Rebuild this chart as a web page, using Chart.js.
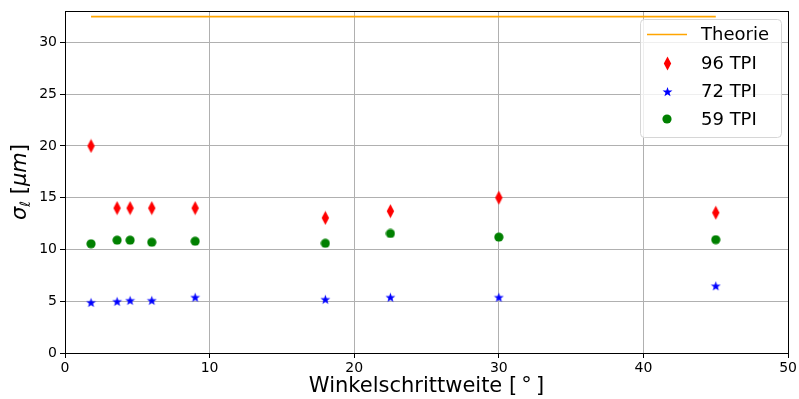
<!DOCTYPE html>
<html>
<head>
<meta charset="utf-8">
<script src="https://cdn.jsdelivr.net/npm/chart.js@4/dist/chart.umd.min.js"></script>
<style>
  html, body { margin: 0; padding: 0; background: #fff; }
  #wrap { width: 799px; height: 399px; }
</style>
</head>
<body>
<div id="wrap"><canvas id="c" width="799" height="399"></canvas></div>
<script>
// Angular step sizes in degrees
const steps = [1.8, 3.6, 4.5, 6, 9, 18, 22.5, 30, 45];
// Measured roughness sigma_l in micrometres per thread pitch
const tpi96 = [20.0, 14.0, 14.0, 14.0, 14.0, 13.05, 13.7, 15.0, 13.55];
const tpi72 = [4.9, 5.0, 5.1, 5.1, 5.4, 5.2, 5.4, 5.4, 6.5];
const tpi59 = [10.55, 10.9, 10.9, 10.7, 10.8, 10.6, 11.55, 11.2, 10.95];
// Theoretical value
const theoryX = [1.8, 45];
const theoryY = [32.5, 32.5];

const xTicks = [0, 10, 20, 30, 40, 50];
const yTicks = [0, 5, 10, 15, 20, 25, 30];

const FONT = "DejaVu Sans";

function markerCanvas(w, h, draw) {
  const c = document.createElement('canvas');
  c.width = w; c.height = h;
  const g = c.getContext('2d');
  draw(g, w, h);
  return c;
}
const diamond = markerCanvas(9, 15, (g, w, h) => {
  g.fillStyle = '#ff0000';
  g.beginPath();
  g.moveTo(w / 2, 0.5); g.lineTo(w - 0.8, h / 2);
  g.lineTo(w / 2, h - 0.5); g.lineTo(0.8, h / 2);
  g.closePath(); g.fill();
});
const star = markerCanvas(11, 11, (g, w, h) => {
  g.fillStyle = '#0000ff';
  const cx = w / 2, cy = h / 2 + 0.6, ro = 5.2, ri = 2.1;
  g.beginPath();
  for (let i = 0; i < 10; i++) {
    const r = i % 2 === 0 ? ro : ri;
    const a = -Math.PI / 2 + i * Math.PI / 5;
    const x = cx + r * Math.cos(a), y = cy + r * Math.sin(a);
    if (i === 0) g.moveTo(x, y); else g.lineTo(x, y);
  }
  g.closePath(); g.fill();
});
const dot = markerCanvas(10, 10, (g) => {
  g.fillStyle = '#008000';
  g.beginPath(); g.arc(5, 5, 4.6, 0, Math.PI * 2); g.fill();
});

const pts = (ys) => steps.map((x, i) => ({ x: x, y: ys[i] }));

const series = [
  { label: 'Theorie', data: theoryX.map((x, i) => ({ x: x, y: theoryY[i] })), showLine: true,
    borderColor: '#ffa500', borderWidth: 1.6, pointRadius: 0, kind: 'line' },
  { label: '96 TPI', data: pts(tpi96), pointStyle: diamond, showLine: false, kind: 'marker' },
  { label: '72 TPI', data: pts(tpi72), pointStyle: star, showLine: false, kind: 'marker' },
  { label: '59 TPI', data: pts(tpi59), pointStyle: dot, showLine: false, kind: 'marker' }
];

const decor = {
  id: 'decor',
  afterDraw(chart) {
    const ctx = chart.ctx;
    const a = chart.chartArea;
    ctx.save();
    // frame
    ctx.strokeStyle = '#000';
    ctx.lineWidth = 1;
    ctx.strokeRect(Math.round(a.left) + 0.5, Math.round(a.top) + 0.5,
      Math.round(a.right - a.left), Math.round(a.bottom - a.top));

    // x axis label
    ctx.fillStyle = '#000';
    ctx.font = `21px "${FONT}"`;
    ctx.textAlign = 'center';
    ctx.textBaseline = 'alphabetic';
    ctx.fillText('Winkelschrittweite [\u2009°\u2009]', (a.left + a.right) / 2, 392);

    // y axis label: σ_ℓ [μm]
    ctx.translate(26, 182);
    ctx.rotate(-Math.PI / 2);
    const parts = [
      { t: 'σ', f: `italic 21px "${FONT}"`, dy: 0 },
      { t: 'ℓ', f: `italic 14px "${FONT}"`, dy: 4 },
      { t: ' [', f: `21px "${FONT}"`, dy: 0 },
      { t: 'μm', f: `italic 21px "${FONT}"`, dy: 0 },
      { t: ']', f: `21px "${FONT}"`, dy: 0 }
    ];
    let total = 0;
    parts.forEach(p => { ctx.font = p.f; p.w = ctx.measureText(p.t).width; total += p.w; });
    let x = -total / 2;
    ctx.textAlign = 'left';
    parts.forEach(p => { ctx.font = p.f; ctx.fillText(p.t, x, p.dy); x += p.w; });
    ctx.restore();

    // legend
    ctx.save();
    const bx = 640.5, by = 19.5, bw = 141, bh = 118, r = 4;
    ctx.fillStyle = 'rgba(255,255,255,0.8)';
    ctx.strokeStyle = '#d6d6d6';
    ctx.lineWidth = 1;
    ctx.beginPath();
    ctx.moveTo(bx + r, by); ctx.lineTo(bx + bw - r, by);
    ctx.quadraticCurveTo(bx + bw, by, bx + bw, by + r);
    ctx.lineTo(bx + bw, by + bh - r);
    ctx.quadraticCurveTo(bx + bw, by + bh, bx + bw - r, by + bh);
    ctx.lineTo(bx + r, by + bh);
    ctx.quadraticCurveTo(bx, by + bh, bx, by + bh - r);
    ctx.lineTo(bx, by + r);
    ctx.quadraticCurveTo(bx, by, bx + r, by);
    ctx.closePath(); ctx.fill(); ctx.stroke();

    const rowsY = [34.5, 63, 91, 119];
    ctx.font = `18px "${FONT}"`;
    ctx.textAlign = 'left';
    ctx.textBaseline = 'middle';
    chart.data.datasets.forEach((ds, i) => {
      const yy = rowsY[i];
      if (ds.kind === 'line') {
        ctx.strokeStyle = ds.borderColor;
        ctx.lineWidth = ds.borderWidth;
        ctx.beginPath(); ctx.moveTo(647, yy); ctx.lineTo(687, yy); ctx.stroke();
      } else {
        const img = ds.pointStyle;
        ctx.drawImage(img, Math.round(667 - img.width / 2), Math.round(yy - img.height / 2));
      }
      ctx.fillStyle = '#000';
      ctx.fillText(ds.label, 701, yy + 1);
    });
    ctx.restore();
  }
};

new Chart(document.getElementById('c'), {
  type: 'scatter',
  data: { datasets: series },
  options: {
    responsive: false,
    animation: false,
    devicePixelRatio: 1,
    layout: { padding: { left: 0, top: 10, right: 9, bottom: 0 } },
    plugins: { legend: { display: false }, tooltip: { enabled: false } },
    scales: {
      x: {
        type: 'linear', min: 0, max: 50,
        afterFit: (s) => { s.height = 46; },
        afterBuildTicks: (s) => { s.ticks = xTicks.map(v => ({ value: v })); },
        ticks: { font: { family: FONT, size: 14 }, color: '#000', padding: 2, maxRotation: 0 },
        grid: { color: '#b0b0b0', lineWidth: 1, tickColor: '#000', tickLength: 5 },
        border: { color: '#000', width: 1 }
      },
      y: {
        type: 'linear', min: 0, max: 33,
        afterFit: (s) => { s.width = 65; },
        afterBuildTicks: (s) => { s.ticks = yTicks.map(v => ({ value: v })); },
        ticks: { font: { family: FONT, size: 14 }, color: '#000', padding: 3 },
        grid: { color: '#b0b0b0', lineWidth: 1, tickColor: '#000', tickLength: 5 },
        border: { color: '#000', width: 1 }
      }
    }
  },
  plugins: [decor]
});
</script>
</body>
</html>
